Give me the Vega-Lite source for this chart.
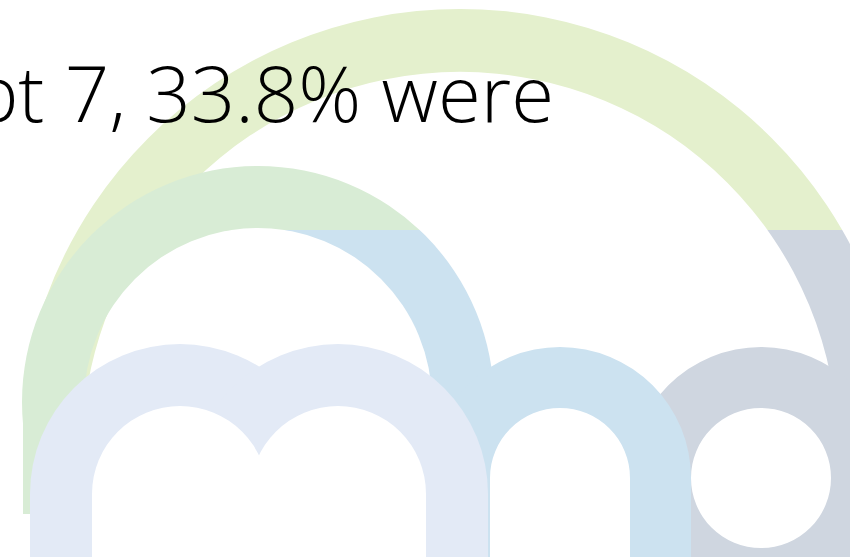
{
  "$schema": "https://vega.github.io/schema/vega-lite/v6.json",
  "padding": 0,
  "spacing": 0,
  "config": {"view": {"stroke": null}, "concat": {"spacing": 0}},
  "datasets": {
    "arcs": [
      {"panel": "top", "z": 1, "part": "arc 1", "cx": 460, "cy": 450, "r0": 378, "r1": 441, "a0": -90, "a1": 90},
      {"panel": "top", "z": 1, "part": "arc 2", "cx": 258, "cy": 402, "r0": 174, "r1": 236, "a0": -90, "a1": 90},
      {"panel": "bottom", "z": 1, "part": "arc 1", "cx": 460, "cy": 450, "r0": 378, "r1": 441, "a0": -80, "a1": 0},
      {"panel": "bottom", "z": 1, "part": "d", "cx": 460, "cy": 450, "r0": 378, "r1": 441, "a0": 0, "a1": 90},
      {"panel": "bottom", "z": 3, "part": "arc 2", "cx": 258, "cy": 402, "r0": 174, "r1": 236, "a0": -180, "a1": 0},
      {"panel": "bottom", "z": 3, "part": "n", "cx": 258, "cy": 402, "r0": 174, "r1": 236, "a0": 0, "a1": 90},
      {"panel": "bottom", "z": 3, "part": "d", "cx": 761, "cy": 478, "r0": 70, "r1": 131, "a0": 0, "a1": 360},
      {"panel": "bottom", "z": 5, "part": "n", "cx": 560, "cy": 478, "r0": 70, "r1": 131, "a0": -90, "a1": 90},
      {"panel": "bottom", "z": 5, "part": "m", "cx": 180, "cy": 494, "r0": 0, "r1": 150, "a0": -90, "a1": 90},
      {"panel": "bottom", "z": 5, "part": "m", "cx": 338, "cy": 494, "r0": 0, "r1": 150, "a0": -90, "a1": 90},
      {"panel": "bottom", "z": 7, "part": "ground", "cx": 180, "cy": 494, "r0": 0, "r1": 88, "a0": -90, "a1": 90},
      {"panel": "bottom", "z": 7, "part": "ground", "cx": 338, "cy": 494, "r0": 0, "r1": 88, "a0": -90, "a1": 90}
    ],
    "rects": [
      {"z": 2, "part": "d", "x0": 838, "x1": 901, "y0": 450, "y1": 557},
      {"z": 4, "part": "arc 2", "x0": 23, "x1": 84, "y0": 402, "y1": 514},
      {"z": 4, "part": "n", "x0": 432, "x1": 490, "y0": 402, "y1": 557},
      {"z": 6, "part": "n", "x0": 630, "x1": 691, "y0": 478, "y1": 557},
      {"z": 6, "part": "m", "x0": 30, "x1": 488, "y0": 494, "y1": 557},
      {"z": 8, "part": "ground", "x0": 92, "x1": 426, "y0": 494, "y1": 557}
    ],
    "labels": [
      {"label": "Sept 7, 33.8% were", "tx": 554, "ty": 122}
    ]
  },
  "vconcat": [
    {
      "width": 850,
      "height": 230,
      "layer": [
        {
          "data": {"name": "arcs"},
          "transform": [{"filter": "datum.panel == 'top'"}],
          "mark": {"type": "arc", "clip": true},
          "encoding": {
            "x": {"field": "cx", "type": "quantitative", "scale": {"domain": [0, 850], "nice": false, "zero": false}, "axis": null},
            "y": {"field": "cy", "type": "quantitative", "scale": {"domain": [230, 0], "nice": false, "zero": false}, "axis": null},
            "theta": {"field": "a0", "type": "quantitative", "stack": null, "scale": {"domain": [0, 360], "range": [0, 6.283185307179586], "nice": false, "zero": false}},
            "theta2": {"field": "a1"},
            "radius": {"field": "r1", "type": "quantitative", "scale": {"type": "linear", "domain": [0, 850], "range": [0, 850], "nice": false, "zero": false}},
            "radius2": {"field": "r0"},
            "color": {"field": "part", "type": "nominal", "legend": null, "scale": {"domain": ["arc 1", "arc 2", "m", "n", "d", "ground"], "range": ["#e4f0cd", "#d8ecd5", "#e3eaf6", "#cce2f0", "#cfd6e0", "#ffffff"]}}
          }
        },
        {
          "data": {"name": "labels"},
          "mark": {"type": "text", "align": "right", "baseline": "alphabetic", "font": "Open Sans", "fontSize": 78, "fontWeight": 300, "fill": "#000000", "clip": true},
          "encoding": {
            "x": {"field": "tx", "type": "quantitative", "scale": {"domain": [0, 850], "nice": false, "zero": false}, "axis": null},
            "y": {"field": "ty", "type": "quantitative", "scale": {"domain": [230, 0], "nice": false, "zero": false}, "axis": null},
            "text": {"field": "label", "type": "nominal"}
          }
        }
      ]
    },
    {
      "width": 850,
      "height": 327,
      "layer": [
        {"data": {"name": "arcs"}, "transform": [{"filter": "datum.panel == 'bottom' && datum.z == 1"}], "mark": {"type": "arc", "clip": true},
          "encoding": {
            "x": {"field": "cx", "type": "quantitative", "scale": {"domain": [0, 850], "nice": false, "zero": false}, "axis": null},
            "y": {"field": "cy", "type": "quantitative", "scale": {"domain": [557, 230], "nice": false, "zero": false}, "axis": null},
            "theta": {"field": "a0", "type": "quantitative", "stack": null, "scale": {"domain": [0, 360], "range": [0, 6.283185307179586], "nice": false, "zero": false}},
            "theta2": {"field": "a1"},
            "radius": {"field": "r1", "type": "quantitative", "scale": {"type": "linear", "domain": [0, 850], "range": [0, 850], "nice": false, "zero": false}},
            "radius2": {"field": "r0"},
            "color": {"field": "part", "type": "nominal", "legend": null, "scale": {"domain": ["arc 1", "arc 2", "m", "n", "d", "ground"], "range": ["#e4f0cd", "#d8ecd5", "#e3eaf6", "#cce2f0", "#cfd6e0", "#ffffff"]}}
          }},
        {"data": {"name": "rects"}, "transform": [{"filter": "datum.z == 2"}], "mark": {"type": "rect", "clip": true},
          "encoding": {
            "x": {"field": "x0", "type": "quantitative"}, "x2": {"field": "x1"},
            "y": {"field": "y0", "type": "quantitative"}, "y2": {"field": "y1"},
            "color": {"field": "part", "type": "nominal", "legend": null}
          }},
        {"data": {"name": "arcs"}, "transform": [{"filter": "datum.panel == 'bottom' && datum.z == 3"}], "mark": {"type": "arc", "clip": true},
          "encoding": {
            "x": {"field": "cx", "type": "quantitative"}, "y": {"field": "cy", "type": "quantitative"},
            "theta": {"field": "a0", "type": "quantitative", "stack": null}, "theta2": {"field": "a1"},
            "radius": {"field": "r1", "type": "quantitative"}, "radius2": {"field": "r0"},
            "color": {"field": "part", "type": "nominal", "legend": null}
          }},
        {"data": {"name": "rects"}, "transform": [{"filter": "datum.z == 4"}], "mark": {"type": "rect", "clip": true},
          "encoding": {
            "x": {"field": "x0", "type": "quantitative"}, "x2": {"field": "x1"},
            "y": {"field": "y0", "type": "quantitative"}, "y2": {"field": "y1"},
            "color": {"field": "part", "type": "nominal", "legend": null}
          }},
        {"data": {"name": "arcs"}, "transform": [{"filter": "datum.panel == 'bottom' && datum.z == 5"}], "mark": {"type": "arc", "clip": true},
          "encoding": {
            "x": {"field": "cx", "type": "quantitative"}, "y": {"field": "cy", "type": "quantitative"},
            "theta": {"field": "a0", "type": "quantitative", "stack": null}, "theta2": {"field": "a1"},
            "radius": {"field": "r1", "type": "quantitative"}, "radius2": {"field": "r0"},
            "color": {"field": "part", "type": "nominal", "legend": null}
          }},
        {"data": {"name": "rects"}, "transform": [{"filter": "datum.z == 6"}], "mark": {"type": "rect", "clip": true},
          "encoding": {
            "x": {"field": "x0", "type": "quantitative"}, "x2": {"field": "x1"},
            "y": {"field": "y0", "type": "quantitative"}, "y2": {"field": "y1"},
            "color": {"field": "part", "type": "nominal", "legend": null}
          }},
        {"data": {"name": "arcs"}, "transform": [{"filter": "datum.panel == 'bottom' && datum.z == 7"}], "mark": {"type": "arc", "clip": true},
          "encoding": {
            "x": {"field": "cx", "type": "quantitative"}, "y": {"field": "cy", "type": "quantitative"},
            "theta": {"field": "a0", "type": "quantitative", "stack": null}, "theta2": {"field": "a1"},
            "radius": {"field": "r1", "type": "quantitative"}, "radius2": {"field": "r0"},
            "color": {"field": "part", "type": "nominal", "legend": null}
          }},
        {"data": {"name": "rects"}, "transform": [{"filter": "datum.z == 8"}], "mark": {"type": "rect", "clip": true},
          "encoding": {
            "x": {"field": "x0", "type": "quantitative"}, "x2": {"field": "x1"},
            "y": {"field": "y0", "type": "quantitative"}, "y2": {"field": "y1"},
            "color": {"field": "part", "type": "nominal", "legend": null}
          }}
      ]
    }
  ]
}
